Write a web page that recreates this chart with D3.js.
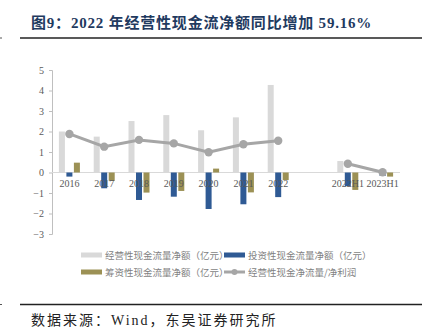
<!DOCTYPE html>
<html><head><meta charset="utf-8">
<script src="https://cdn.jsdelivr.net/npm/d3@7/dist/d3.min.js"></script>
<style>body{margin:0;background:#fff;}svg{display:block;}</style>
</head><body>
<script>
const categories = ["2016","2017","2018","2019","2020","2021","2022","","2022H1","2023H1"];
const operating = [2.0,1.75,2.51,2.8,2.06,2.69,4.27,null,0.56,0.04];
const investing = [-0.2,-0.77,-1.34,-1.18,-1.78,-1.55,-1.2,null,-0.66,-0.17];
const financing = [0.48,-0.41,-0.98,-0.9,0.19,-0.97,-0.37,null,-0.85,-0.2];
const ratio = [1.88,1.26,1.59,1.42,0.99,1.38,1.55,null,0.43,0.01];
const yTicks = [-3,-2,-1,0,1,2,3,4,5];
const seriesNames = ["经营性现金流量净额（亿元）","投资性现金流量净额（亿元）","筹资性现金流量净额（亿元）","经营性现金净流量/净利润"];
const colors = ["#d9d9d9","#2f5a94","#9c9155","#a6a6a6"];

const W=434,H=335;
const svg=d3.select("body").append("svg").attr("width",W).attr("height",H);
const cjk="'Noto Sans CJK SC','Noto Sans',sans-serif";
const serif="'Liberation Serif','Noto Sans CJK SC',serif";

// title
svg.append("text").attr("x",31).attr("y",28)
  .attr("font-family",serif).attr("font-weight","bold").attr("font-size",15)
  .attr("letter-spacing",0.8)
  .attr("fill","#1f3a5f").text("图9：2022 年经营性现金流净额同比增加 59.16%");
svg.append("line").attr("x1",20).attr("x2",422).attr("y1",38).attr("y2",38).attr("stroke","#222").attr("stroke-width",1.3);
svg.append("line").attr("x1",20).attr("x2",422).attr("y1",304.5).attr("y2",304.5).attr("stroke","#222").attr("stroke-width",1.3);
svg.append("line").attr("x1",0).attr("x2",2).attr("y1",38).attr("y2",38).attr("stroke","#555").attr("stroke-width",1);
svg.append("line").attr("x1",0).attr("x2",2).attr("y1",304.5).attr("y2",304.5).attr("stroke","#555").attr("stroke-width",1);
svg.append("text").attr("x",31).attr("y",325).attr("font-family",serif).attr("font-size",14)
  .attr("letter-spacing",2)
  .attr("fill","#222").text("数据来源：Wind，东吴证券研究所");

const x=d3.scaleBand().domain(d3.range(categories.length)).range([52,400]).paddingInner(0).paddingOuter(0);
const y=d3.scaleLinear().domain([-3,5]).range([234,70]);
const bw=6, gap=1.5;

// y axis
const ya=svg.append("g").attr("transform","translate(52,0)")
  .call(d3.axisLeft(y).tickValues(yTicks).tickSize(3).tickPadding(5).tickFormat(d3.format("d")));
ya.select(".domain").attr("stroke","#bfbfbf");
ya.selectAll(".tick line").attr("stroke","#bfbfbf");
ya.selectAll("text").attr("font-family",serif).attr("font-size",10).attr("fill","#595959");

// zero line
svg.append("line").attr("x1",52).attr("x2",400).attr("y1",y(0)).attr("y2",y(0)).attr("stroke","#d9d9d9").attr("stroke-width",1);

const groups=[operating,investing,financing];
groups.forEach((arr,k)=>{
  svg.append("g").selectAll("rect").data(arr.map((v,i)=>({v,i})).filter(d=>d.v!==null)).join("rect")
    .attr("x",d=>x(d.i)+x.bandwidth()/2+(k-1)*(bw+gap)-bw/2)
    .attr("width",bw)
    .attr("y",d=>y(Math.max(0,d.v)))
    .attr("height",d=>Math.abs(y(d.v)-y(0)))
    .attr("fill",colors[k]);
});

// category labels
svg.append("g").selectAll("text").data(categories).join("text")
  .attr("x",(d,i)=>x(i)+x.bandwidth()/2).attr("y",y(0)+14)
  .attr("text-anchor","middle").attr("font-family",serif).attr("font-size",10).attr("fill","#595959")
  .text(d=>d);

// line
const line=d3.line().defined(d=>d.v!==null).x(d=>x(d.i)+x.bandwidth()/2).y(d=>y(d.v));
const pts=ratio.map((v,i)=>({v,i}));
svg.append("path").datum(pts).attr("d",line).attr("fill","none").attr("stroke",colors[3]).attr("stroke-width",3);
svg.append("g").selectAll("circle").data(pts.filter(d=>d.v!==null)).join("circle")
  .attr("cx",d=>x(d.i)+x.bandwidth()/2).attr("cy",d=>y(d.v)).attr("r",4.2).attr("fill",colors[3]);

// legend
const legPos=[[81,255],[224,255],[81,272],[224,272]];
seriesNames.forEach((n,k)=>{
  const [lx,ly]=legPos[k];
  if(k<3){
    svg.append("rect").attr("x",lx).attr("y",ly-2.5).attr("width",21).attr("height",5).attr("fill",colors[k]);
  } else {
    svg.append("line").attr("x1",lx).attr("x2",lx+21).attr("y1",ly).attr("y2",ly).attr("stroke",colors[3]).attr("stroke-width",3);
    svg.append("circle").attr("cx",lx+10.5).attr("cy",ly).attr("r",3).attr("fill",colors[3]);
  }
  svg.append("text").attr("x",lx+24).attr("y",ly+3.5).attr("font-family",cjk).attr("font-size",9.5)
    .attr("fill","#7f7f7f").text(n);
});
</script>
</body></html>
